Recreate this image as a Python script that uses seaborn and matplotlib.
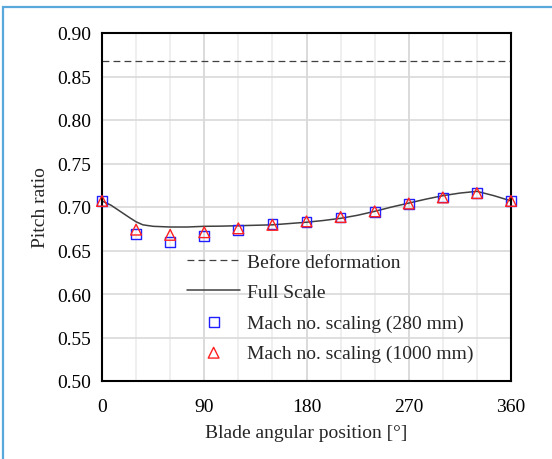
import matplotlib
matplotlib.use("Agg")
import matplotlib.pyplot as plt
import seaborn as sns
import pandas as pd
from matplotlib.patches import Rectangle
from matplotlib.ticker import MultipleLocator

# Full-scale pitch ratio along the blade circumference
full_angle = [0, 8, 16, 24, 30, 36, 45, 60, 75, 90, 105, 120, 135, 150, 165,
              180, 195, 210, 225, 240, 255, 270, 285, 300, 315, 330, 345, 360]
full_ratio = [0.707, 0.702, 0.695, 0.688, 0.683, 0.6795, 0.6778, 0.677, 0.677,
              0.6778, 0.678, 0.6785, 0.679, 0.6795, 0.681, 0.6825, 0.6845,
              0.687, 0.6905, 0.695, 0.700, 0.7045, 0.709, 0.713, 0.716, 0.718,
              0.713, 0.707]

# Model-scale results (Mach number scaling)
model_angle = [0, 30, 60, 90, 120, 150, 180, 210, 240, 270, 300, 330, 360]
ratio_280 = [0.707, 0.669, 0.660, 0.667, 0.674, 0.680, 0.683, 0.688, 0.694,
             0.703, 0.711, 0.716, 0.707]
ratio_1000 = [0.707, 0.674, 0.668, 0.671, 0.6755, 0.6795, 0.6835, 0.6885,
              0.695, 0.704, 0.711, 0.716, 0.707]

before_ratio = 0.868

sns.set_theme(style="white")
plt.rcParams["font.family"] = ["Liberation Serif", "DejaVu Serif"]

FS = 14

fig = plt.figure(figsize=(5.52, 4.60), dpi=100)
ax = fig.add_axes([102 / 552, 1 - 382 / 460, 409 / 552, 348 / 460])

# grid: minor every 30 deg, major every 90 deg
ax.set_xlim(0, 360)
ax.set_ylim(0.50, 0.90)
ax.xaxis.set_major_locator(MultipleLocator(90))
ax.xaxis.set_minor_locator(MultipleLocator(30))
ax.grid(which="major", axis="x", color="#d4d4d4", linewidth=1.2)
ax.grid(which="minor", axis="x", color="#ececec", linewidth=1.2)
ax.grid(which="major", axis="y", color="#d9d9d9", linewidth=1.2)
ax.set_axisbelow(True)

ax.axhline(before_ratio, color="#404040", linestyle=(0, (5.5, 3.3)),
           linewidth=0.9, label="Before deformation")

full_df = pd.DataFrame({"angle": full_angle, "ratio": full_ratio})
sns.lineplot(data=full_df, x="angle", y="ratio", ax=ax, color="#404040",
             linewidth=1.1, label="Full Scale", sort=False)

df280 = pd.DataFrame({"angle": model_angle, "ratio": ratio_280})
df1000 = pd.DataFrame({"angle": model_angle, "ratio": ratio_1000})
sns.scatterplot(data=df280, x="angle", y="ratio", ax=ax, marker="s", s=50,
                facecolor="none", edgecolor="#1f1fff", linewidth=1.0,
                label="Mach no. scaling (280 mm)", zorder=4, clip_on=False)
sns.scatterplot(data=df1000, x="angle", y="ratio", ax=ax, marker="^", s=60,
                facecolor="none", edgecolor="#ff2020", linewidth=1.0,
                label="Mach no. scaling (1000 mm)", zorder=5, clip_on=False)

for sp in ax.spines.values():
    sp.set_color("black")
    sp.set_linewidth(1.5)

ax.tick_params(axis="both", which="major", direction="in", length=4,
               width=1, colors="black", labelsize=FS)
ax.tick_params(axis="y", which="major", pad=8)
ax.tick_params(axis="x", which="major", pad=12)
ax.tick_params(axis="both", which="minor", length=0)
ax.set_yticks([0.50, 0.55, 0.60, 0.65, 0.70, 0.75, 0.80, 0.85, 0.90])
ax.set_yticklabels([f"{v:.2f}" for v in ax.get_yticks()])
ax.set_xticks([0, 90, 180, 270, 360])
ax.set_xlabel("Blade angular position [°]", fontsize=FS, labelpad=7)
ax.set_ylabel("Pitch ratio", fontsize=FS, labelpad=6)

leg = ax.legend(loc="lower left", bbox_to_anchor=(0.208, 0.055),
                frameon=False, fontsize=FS, handlelength=2.73,
                handletextpad=0.36, labelspacing=0.65, borderpad=0,
                borderaxespad=0, scatterpoints=1)

# thin blue frame round the figure
fig.patches.append(Rectangle((3 / 552, -0.1), 1.2, (1 - 8 / 460) + 0.1,
                             transform=fig.transFigure, fill=False,
                             edgecolor="#58a8dc", linewidth=1.6))

fig.savefig("out.png", dpi=100)
